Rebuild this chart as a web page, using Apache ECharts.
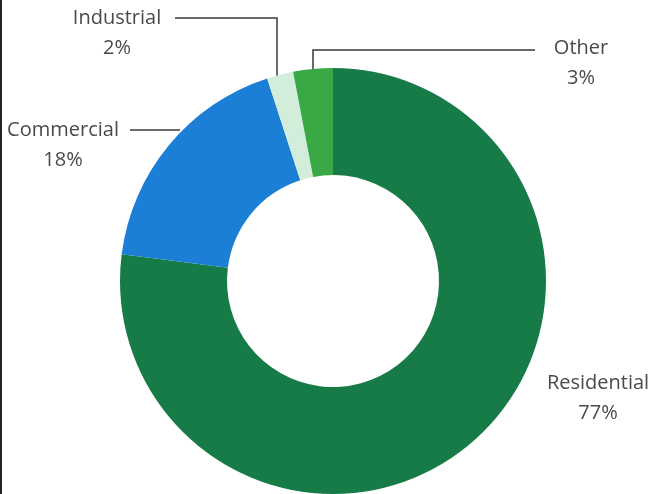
<!DOCTYPE html>
<html>
<head>
<meta charset="utf-8">
<script src="https://cdn.jsdelivr.net/npm/echarts@6/dist/echarts.min.js"></script>
<style>html,body{margin:0;padding:0;background:#fff;}#c{width:657px;height:494px;}</style>
</head>
<body>
<div id="c"></div>
<script>
const categories = ['Residential', 'Commercial', 'Industrial', 'Other'];
const values = [77, 18, 2, 3];
const colors = ['#177b47', '#1c7fd6', '#d2eedb', '#3aa945'];

// label placement (styling) per category
const labelPos = [
  { x: 598, y: 368, line: null },
  { x: 63, y: 115, line: [[180, 130], [156, 130], [130, 130]] },
  { x: 117, y: 3, line: [[277, 76], [277, 18], [175, 18]] },
  { x: 581, y: 33, line: [[313, 69], [313, 50], [535, 50]] }
];

const chart = echarts.init(document.getElementById('c'));
chart.setOption({
  animation: false,
  graphic: [{ type: 'rect', shape: { x: 0, y: 0, width: 2, height: 494 }, style: { fill: '#222' } }],
  series: [{
    type: 'pie',
    center: [333, 281],
    radius: [106, 213],
    startAngle: 90,
    clockwise: true,
    silent: true,
    data: categories.map((c, i) => ({ name: c, value: values[i], itemStyle: { color: colors[i] } })),
    label: {
      show: true,
      formatter: p => p.name + '\n' + p.value + '%',
      fontFamily: '"Open Sans", sans-serif',
      fontSize: 20,
      lineHeight: 30,
      color: '#4a4a4a',
      align: 'center',
      overflow: 'none'
    },
    labelLine: { show: true, lineStyle: { color: '#3a3a3a', width: 1.5 } },
    labelLayout: function (p) {
      const lp = labelPos[p.dataIndex];
      const r = { x: lp.x, y: lp.y, align: 'center', verticalAlign: 'top', width: 200 };
      if (lp.line) r.labelLinePoints = lp.line; else r.labelLinePoints = [[0,0],[0,0],[0,0]];
      return r;
    }
  }]
});
</script>
</body>
</html>
